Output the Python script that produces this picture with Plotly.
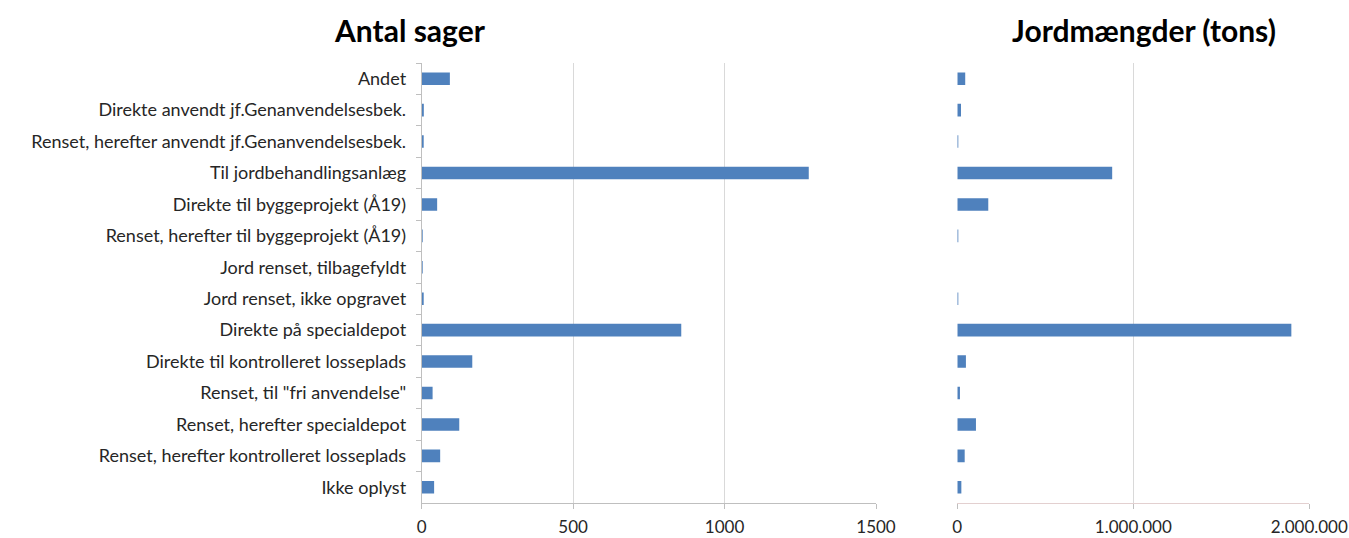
import plotly.graph_objects as go

categories = [
    "Andet",
    "Direkte anvendt jf.Genanvendelsesbek.",
    "Renset, herefter anvendt jf.Genanvendelsesbek.",
    "Til jordbehandlingsanlæg",
    "Direkte til byggeprojekt (Å19)",
    "Renset, herefter til byggeprojekt (Å19)",
    "Jord renset, tilbagefyldt",
    "Jord renset, ikke opgravet",
    "Direkte på specialdepot",
    "Direkte til kontrolleret losseplads",
    "Renset, til \"fri anvendelse\"",
    "Renset, herefter specialdepot",
    "Renset, herefter kontrolleret losseplads",
    "Ikke oplyst",
]
antal_sager = [93, 7, 5, 1278, 51, 3, 2, 6, 857, 167, 36, 124, 61, 41]
jordmaengder = [45000, 21000, 5000, 880000, 176000, 3000, 0, 2000,
                1898000, 49000, 15000, 106000, 42000, 23000]

left_tickvals = [0, 500, 1000, 1500]
left_ticktext = ["0", "500", "1000", "1500"]
right_tickvals = [0, 1000000, 2000000]
right_ticktext = ["0", "1.000.000", "2.000.000"]

title_left = "Antal sager"
title_right = "Jordmængder (tons)"

W, H = 1349, 538
BAR = "#4F81BD"
GRID = "#D9D9D9"
AXIS = "#BFBFBF"
TXT = "#262626"
FONT = "Lato"

fig = go.Figure()
fig.add_trace(go.Bar(y=categories, x=antal_sager, orientation="h",
                     marker=dict(color=BAR, line=dict(width=0)),
                     xaxis="x", yaxis="y", showlegend=False))
fig.add_trace(go.Bar(y=categories, x=jordmaengder, orientation="h",
                     marker=dict(color=BAR, line=dict(width=0)),
                     xaxis="x2", yaxis="y2", showlegend=False))

ydom = [(H - 503) / H, (H - 63) / H]

fig.update_layout(
    width=W, height=H,
    margin=dict(l=0, r=0, t=0, b=0, autoexpand=False),
    paper_bgcolor="white", plot_bgcolor="white",
    bargap=0.6,
    font=dict(family=FONT, size=18, color=TXT),
    xaxis=dict(domain=[421.7 / W, 876 / W], range=[0, 1500],
               tickvals=left_tickvals, ticktext=left_ticktext,
               tickfont=dict(size=17), automargin=False,
               showgrid=True, gridcolor=GRID, gridwidth=1,
               showline=True, linecolor=AXIS, linewidth=1,
               ticks="outside", ticklen=5, tickcolor=AXIS,
               ticklabelstandoff=4, zeroline=False, anchor="y"),
    yaxis=dict(domain=ydom, type="category", autorange="reversed",
               showline=True, linecolor=AXIS, linewidth=1,
               ticks="outside", ticklen=5, tickcolor=AXIS,
               tickson="boundaries", showgrid=False, automargin=False,
               ticklabelstandoff=11, anchor="x"),
    xaxis2=dict(domain=[957.3 / W, 1309.3 / W], range=[0, 2000000],
                tickvals=right_tickvals, ticktext=right_ticktext,
                tickfont=dict(size=17), automargin=False,
                showgrid=True, gridcolor=GRID, gridwidth=1,
                showline=True, linecolor="#E3D0D0", linewidth=1,
                ticks="outside", ticklen=5, tickcolor=AXIS,
                ticklabelstandoff=4, zeroline=False, anchor="y2"),
    yaxis2=dict(domain=ydom, type="category", autorange="reversed",
                showline=False, showticklabels=False, ticks="",
                showgrid=False, automargin=False, anchor="x2"),
    annotations=[
        dict(text="<b>" + title_left + "</b>", x=410 / W, y=1 - 30 / H,
             xref="paper", yref="paper", showarrow=False,
             font=dict(family=FONT, size=30, color="#000000"),
             xanchor="center", yanchor="middle"),
        dict(text="<b>" + title_right + "</b>", x=1144 / W, y=1 - 30 / H,
             xref="paper", yref="paper", showarrow=False,
             font=dict(family=FONT, size=30, color="#000000"),
             xanchor="center", yanchor="middle"),
    ],
)

fig.write_html("out.html", config={"displayModeBar": False},
               post_script="document.body.style.margin='0';document.body.style.overflow='hidden';")
